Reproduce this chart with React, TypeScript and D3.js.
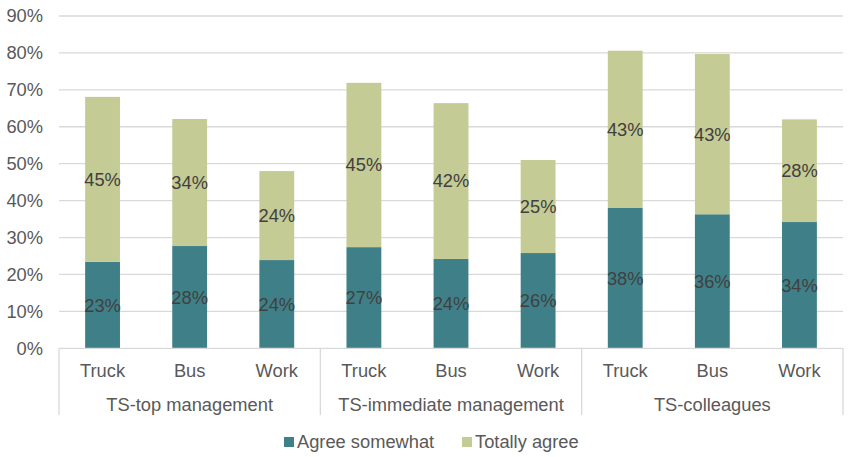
import * as d3 from "d3";
import { useEffect } from "react";

const groups = ["TS-top management", "TS-immediate management", "TS-colleagues"];
const modes = ["Truck", "Bus", "Work"];
const agreeSomewhat = [23.4, 27.7, 23.9, 27.4, 24.2, 25.8, 38.0, 36.3, 34.2];
const totallyAgree = [44.7, 34.4, 24.1, 44.5, 42.2, 25.2, 42.6, 43.4, 27.8];
const yTicks = [0, 10, 20, 30, 40, 50, 60, 70, 80, 90];

const W = 853;
const H = 457;
const margin = { top: 16, right: 10, bottom: 109, left: 59 };
const COLOR_A = "#3f8088";
const COLOR_B = "#c5cb94";
const FONT = "'Liberation Sans', Arial, sans-serif";
const FS = 18.3;

export default function App() {
  useEffect(() => {
    document.body.style.margin = "0";
  }, []);

  const keys = groups.flatMap((g) => modes.map((m) => `${g}|${m}`));
  const x = d3
    .scaleBand()
    .domain(keys)
    .range([margin.left, W - margin.right])
    .paddingInner(0.6)
    .paddingOuter(0.3);
  const y = d3
    .scaleLinear()
    .domain([0, 90])
    .range([H - margin.bottom + 0.3, margin.top]);

  const step = x.step();
  const x0 = margin.left;
  const baseY = y(0);
  const groupEdges = d3.range(groups.length + 1).map((i) => x0 + i * step * modes.length);

  return (
    <svg width={W} height={H} style={{ display: "block", fontFamily: FONT }}>
      <rect width={W} height={H} fill="#ffffff" />
      {/* gridlines */}
      {yTicks.map((t) => (
        <g key={t}>
          {t > 0 && (
            <line x1={x0} x2={W - margin.right} y1={y(t)} y2={y(t)} stroke="#d9d9d9" strokeWidth={1.3} />
          )}
          <text x={43} y={y(t)} dy="0.35em" textAnchor="end" fontSize={FS} fill="#595959">
            {t}%
          </text>
        </g>
      ))}
      {/* bars */}
      {keys.map((k, i) => {
        const a = agreeSomewhat[i];
        const b = totallyAgree[i];
        const bx = x(k) || 0;
        return (
          <g key={k}>
            <rect x={bx} y={y(a)} width={x.bandwidth()} height={y(0) - y(a)} fill={COLOR_A} />
            <rect x={bx} y={y(a + b)} width={x.bandwidth()} height={y(a) - y(a + b)} fill={COLOR_B} />
            <text x={bx + x.bandwidth() / 2} y={y(a / 2)} dy="0.35em" textAnchor="middle" fontSize={FS} fill="#404040">
              {Math.round(a)}%
            </text>
            <text x={bx + x.bandwidth() / 2} y={y(a + b / 2)} dy="0.35em" textAnchor="middle" fontSize={FS} fill="#404040">
              {Math.round(b)}%
            </text>
          </g>
        );
      })}
      {/* axis baseline and group separators */}
      <line x1={x0} x2={W - margin.right} y1={baseY} y2={baseY} stroke="#d9d9d9" strokeWidth={1.3} />
      {groupEdges.map((gx, i) => (
        <line key={i} x1={gx} x2={gx} y1={baseY} y2={415} stroke="#d9d9d9" strokeWidth={1.3} />
      ))}
      {keys.map((k, i) => (
        <text key={k} x={(x(k) || 0) + x.bandwidth() / 2} y={377} textAnchor="middle" fontSize={FS} fill="#595959">
          {modes[i % modes.length]}
        </text>
      ))}
      {groups.map((g, i) => (
        <text key={g} x={(groupEdges[i] + groupEdges[i + 1]) / 2} y={411} textAnchor="middle" fontSize={FS} fill="#595959">
          {g}
        </text>
      ))}
      {/* legend */}
      <rect x={284} y={437} width={10} height={10} fill={COLOR_A} />
      <text x={297} y={442} dy="0.35em" fontSize={FS} fill="#595959">Agree somewhat</text>
      <rect x={462} y={437} width={10} height={10} fill={COLOR_B} />
      <text x={475} y={442} dy="0.35em" fontSize={FS} fill="#595959">Totally agree</text>
    </svg>
  );
}
